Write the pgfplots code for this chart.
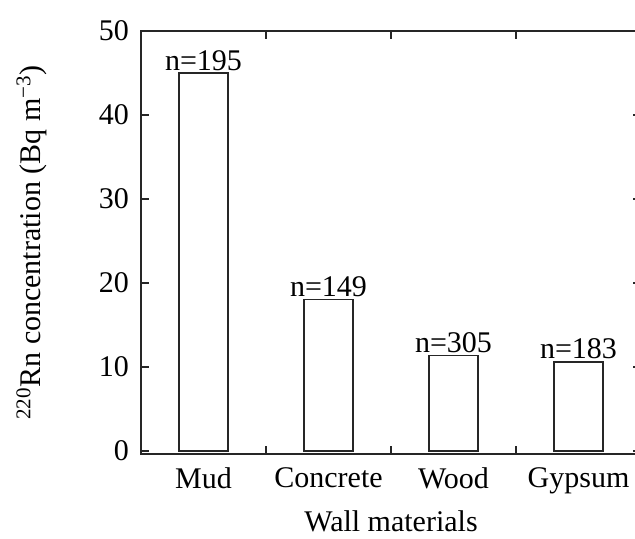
\documentclass[border=0pt]{standalone}
\usepackage{fontspec}
\setmainfont{Liberation Serif}
\usepackage{pgfplots}
\pgfplotsset{compat=1.18}
\begin{document}
\begin{tikzpicture}
\begin{axis}[
  at={(70.5pt,42pt)}, anchor=south west,
  scale only axis, width=250pt, height=211.5pt,
  xmin=-0.5, xmax=3.5, ymin=-0.36, ymax=50,
  axis line style={line width=0.8pt, black!85},
  ybar, bar width=0.39,
  xtick={0,1,2,3},
  xticklabels={Mud,Concrete,Wood,Gypsum},
  major x tick style={draw=none},
  minor xtick={0.5,1.5,2.5},
  minor tick length=4pt,
  ytick={0,10,20,30,40,50},
  major tick length=4pt,
  tick style={line width=0.8pt, black!85},
  tick align=inside,
  /pgf/number format/assume math mode=true,
  tick label style={font=\fontsize{15}{18}\selectfont},
  xticklabel style={yshift=-3.5pt},
  yticklabel style={xshift=-2.5pt},
  xlabel={Wall materials},
  ylabel={\textsuperscript{220}Rn concentration (Bq m\textsuperscript{−3})},
  label style={font=\fontsize{15}{18}\selectfont},
  xlabel style={yshift=-1.5pt},
  ylabel style={yshift=19pt},
  point meta=explicit symbolic,
  nodes near coords={n=\pgfplotspointmeta},
  every node near coord/.append style={font=\fontsize{15}{18}\selectfont, inner sep=1pt, black},
]
\addplot[fill=white, draw=black!85, line width=0.7pt, bar shift=0pt]
  coordinates {(0,45.0)[195] (1,18.0)[149] (2,11.4)[305] (3,10.6)[183]};
\end{axis}
\pgfresetboundingbox
\path[use as bounding box] (0,0) rectangle (317.5pt,269pt);
\end{tikzpicture}
\end{document}
